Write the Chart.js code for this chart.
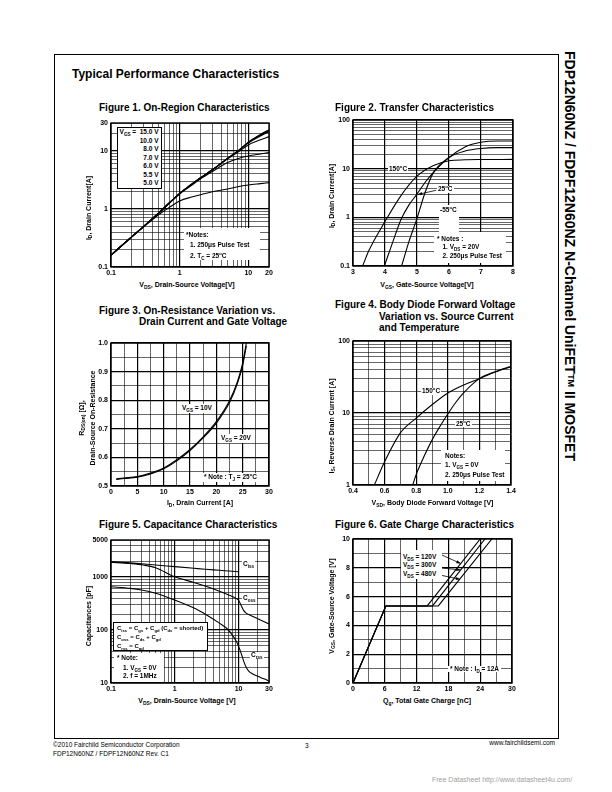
<!DOCTYPE html>
<html>
<head>
<meta charset="utf-8">
<script src="https://cdn.jsdelivr.net/npm/chart.js@4"></script>
<style>
body{margin:0;background:#fff;font-family:"Liberation Sans",Arial,sans-serif;color:#000}
#page{position:relative;width:612px;height:792px;overflow:hidden;background:#fff}
#frame{position:absolute;left:54px;top:54px;width:503px;height:683px;border:1px solid #000}
canvas{position:absolute;z-index:1}
.t{position:absolute;white-space:nowrap;line-height:1;font-weight:bold;z-index:2}
.t sub{font-size:70%;vertical-align:-1.5px;line-height:0}
.t sup{font-size:65%;vertical-align:3px;line-height:0}
.h{font-size:12px}
.f{font-size:10px}
.a{font-size:7px}
.s{font-size:6.5px}
.xt{transform:translateX(-50%)}
.yt{transform:translate(-50%,-50%) rotate(-90deg);text-align:center;line-height:10.5px}
.w{background:#fff}
.n{font-weight:normal;font-size:6.5px}
</style>
</head>
<body>
<div id="page">
<div id="frame"></div>

<div class="t h" style="left:72px;top:68px">Typical Performance Characteristics</div>
<div class="t" style="left:570px;top:256px;font-size:14px;transform:translate(-50%,-50%) rotate(90deg)">FDP12N60NZ / FDPF12N60NZ N-Channel UniFET<sup>TM</sup> II MOSFET</div>

<!-- figure titles -->
<div class="t f" style="left:99px;top:103px">Figure 1. On-Region Characteristics</div>
<div class="t f" style="left:335px;top:103px">Figure 2. Transfer Characteristics</div>
<div class="t f" style="left:99px;top:305.5px">Figure 3. On-Resistance Variation vs.</div>
<div class="t f" style="left:139px;top:316.5px">Drain Current and Gate Voltage</div>
<div class="t f" style="left:335px;top:300px">Figure 4. Body Diode Forward Voltage</div>
<div class="t f" style="left:379px;top:311.5px">Variation vs. Source Current</div>
<div class="t f" style="left:379px;top:322.5px">and Temperature</div>
<div class="t f" style="left:99px;top:520px">Figure 5. Capacitance Characteristics</div>
<div class="t f" style="left:335px;top:520px">Figure 6. Gate Charge Characteristics</div>

<!-- axis titles -->
<div class="t a xt" style="left:187px;top:281px">V<sub>DS</sub>, Drain-Source Voltage[V]</div>
<div class="t a yt" style="left:89px;top:208px">I<sub>D</sub>, Drain Current[A]</div>
<div class="t a xt" style="left:427px;top:280.5px">V<sub>GS</sub>, Gate-Source Voltage[V]</div>
<div class="t a yt" style="left:332px;top:196px">I<sub>D</sub>, Drain Current[A]</div>
<div class="t a xt" style="left:200px;top:498.5px">I<sub>D</sub>, Drain Current [A]</div>
<div class="t a yt" style="left:87px;top:418px">R<sub>DS(on)</sub> [Ω],<br>Drain-Source On-Resistance</div>
<div class="t a xt" style="left:432.5px;top:498.5px">V<sub>SD</sub>, Body Diode Forward Voltage [V]</div>
<div class="t a yt" style="left:332px;top:426px">I<sub>S</sub>, Reverse Drain Current [A]</div>
<div class="t a xt" style="left:187px;top:697px">V<sub>DS</sub>, Drain-Source Voltage [V]</div>
<div class="t a yt" style="left:89px;top:616px">Capacitances [pF]</div>
<div class="t a xt" style="left:427px;top:697px">Q<sub>g</sub>, Total Gate Charge [nC]</div>
<div class="t a yt" style="left:332px;top:606px">V<sub>GS</sub>, Gate-Source Voltage [V]</div>

<!-- figure 1 notes -->
<div class="t s" style="left:116.5px;top:126.5px;width:41px;height:60px;border:1px solid #000;background:#fff;text-align:right;padding:0.5px 2.5px 0 0;line-height:8.5px">V<sub>GS</sub> = &nbsp;15.0 V<br>10.0 V<br>8.0 V<br>7.0 V<br>6.0 V<br>5.5 V<br>5.0 V</div>
<div class="t w" style="left:184px;top:228px;width:76px;height:32px"></div>
<div class="t s" style="left:186px;top:232px">*Notes:</div>
<div class="t s" style="left:190px;top:242px">1. 250<span>μ</span>s Pulse Test</div>
<div class="t s" style="left:190px;top:252.5px">2. T<sub>C</sub> = 25<sup>o</sup>C</div>

<!-- figure 2 notes -->
<div class="t s w" style="left:388px;top:165.5px;padding:0 1px">150<sup>o</sup>C</div>
<div class="t s w" style="left:437px;top:186px;padding:0 1px">25<sup>o</sup>C</div>
<div class="t s w" style="left:439px;top:205px;padding:2px 2px 20px 1px">-55<sup>o</sup>C</div>
<div class="t w" style="left:434px;top:232px;width:72px;height:31px"></div>
<div class="t s" style="left:437px;top:235.5px">* Notes :</div>
<div class="t s" style="left:442.5px;top:244px">1. V<sub>DS</sub> = 20V</div>
<div class="t s" style="left:442.5px;top:253px">2. 250<span>μ</span>s Pulse Test</div>

<!-- figure 3 notes -->
<div class="t s w" style="left:181px;top:404px;padding:1px">V<sub>GS</sub> = 10V</div>
<div class="t s w" style="left:220px;top:434px;padding:1px">V<sub>GS</sub> = 20V</div>
<div class="t s w" style="left:202px;top:473px;padding:1px 2px">* Note : T<sub>J</sub> = 25<sup>o</sup>C</div>

<!-- figure 4 notes -->
<div class="t s w" style="left:421px;top:388px;padding:0 1px">150<sup>o</sup>C</div>
<div class="t s w" style="left:455px;top:420.5px;padding:0 1px">25<sup>o</sup>C</div>
<div class="t w" style="left:441px;top:450px;width:64px;height:31px"></div>
<div class="t s" style="left:445px;top:453px">Notes:</div>
<div class="t s" style="left:445px;top:462px">1. V<sub>GS</sub> = 0V</div>
<div class="t s" style="left:445px;top:472px">2. 250<span>μ</span>s Pulse Test</div>

<!-- figure 5 notes -->
<div class="t s w" style="left:242px;top:560.5px;padding:0 1px">C<sub>iss</sub></div>
<div class="t s w" style="left:242px;top:595px;padding:0 1px">C<sub>oss</sub></div>
<div class="t s w" style="left:250px;top:651.5px;padding:0 1px">C<sub>rss</sub></div>
<div class="t" style="left:113px;top:622px;width:90px;height:26px;border:1px solid #000;background:#fff;padding:1px 0 0 3px;font-size:6px;line-height:9px">C<sub>iss</sub> = C<sub>gs</sub> + C<sub>gd</sub> (C<sub>ds</sub> = shorted)<br>C<sub>oss</sub> = C<sub>ds</sub> + C<sub>gd</sub><br>C<sub>rss</sub> = C<sub>gd</sub></div>
<div class="t w" style="left:114px;top:653px;width:50px;height:29px"></div>
<div class="t s" style="left:117px;top:655px">* Note:</div>
<div class="t s" style="left:123px;top:664.5px">1. V<sub>GS</sub> = 0V</div>
<div class="t s" style="left:123px;top:673px">2. f = 1MHz</div>

<!-- figure 6 notes -->
<div class="t w" style="left:401px;top:550px;width:41px;height:29px"></div>
<div class="t s" style="left:403px;top:553.5px">V<sub>DS</sub> = 120V</div>
<div class="t s" style="left:403px;top:562px">V<sub>DS</sub> = 300V</div>
<div class="t s" style="left:403px;top:570.5px">V<sub>DS</sub> = 480V</div>
<div class="t s w" style="left:448px;top:665.5px;padding:0 2px">* Note : I<sub>D</sub> = 12A</div>

<!-- footer -->
<div class="t n" style="left:53px;top:741.5px">©2010 Fairchild Semiconductor Corporation</div>
<div class="t n" style="left:53px;top:750.5px">FDP12N60NZ / FDPF12N60NZ Rev. C1</div>
<div class="t n" style="left:305px;top:742.5px">3</div>
<div class="t n" style="right:57px;top:740px">www.fairchildsemi.com</div>
<div class="t n" style="left:432px;top:775.5px;font-size:7px;color:#a0a0a0">Free Datasheet http://www.datasheet4u.com/</div>
</div>

<script>
// Figure 1 : On-Region Characteristics (VDS [V] -> ID [A], one series per VGS)
const f1Vds   = [0.1, 0.2, 0.3, 0.5, 0.7, 1, 1.5, 2, 3, 5, 7, 10, 15, 20];
const f1Vgs15 = [0.16, 0.33, 0.5, 0.86, 1.25, 1.85, 2.65, 3.4, 4.7, 7.4, 9.8, 14.0, 19.0, 23.0];
const f1Vgs10 = [0.16, 0.33, 0.5, 0.86, 1.25, 1.85, 2.65, 3.4, 4.7, 7.4, 9.8, 13.9, 18.7, 22.5];
const f1Vgs8  = [0.16, 0.33, 0.5, 0.86, 1.25, 1.85, 2.65, 3.4, 4.7, 7.4, 9.8, 13.8, 18.4, 22.0];
const f1Vgs7  = [0.16, 0.33, 0.5, 0.86, 1.25, 1.85, 2.65, 3.4, 4.7, 7.4, 9.7, 13.6, 18.0, 21.4];
const f1Vgs6  = [0.16, 0.33, 0.5, 0.86, 1.25, 1.85, 2.65, 3.4, 4.7, 7.3, 9.4, 12.6, 15.4, 17.5];
const f1Vgs55 = [0.16, 0.33, 0.5, 0.85, 1.23, 1.8, 2.55, 3.25, 4.4, 6.3, 7.3, 8.1, 8.8, 9.3];
const f1Vgs5  = [0.16, 0.33, 0.49, 0.8, 1.05, 1.37, 1.6, 1.75, 1.97, 2.2, 2.4, 2.57, 2.72, 2.83];
const f1XLabels = [0.1, 1, 10, 20];
const f1YLabels = [0.1, 1, 10, 30];

// Figure 2 : Transfer Characteristics (VGS [V] -> ID [A])
const f2Vgs150 = [3.3, 3.5, 4.0, 4.5, 5.0, 5.5, 6.0, 6.5, 7.0, 8.0];
const f2Id150  = [0.1, 0.21, 0.82, 2.8, 7.0, 11.5, 14.5, 15.2, 15.4, 15.5];
const f2Vgs25  = [3.98, 4.25, 4.5, 4.75, 5.0, 5.25, 5.5, 6.0, 6.5, 7.0, 7.5, 8.0];
const f2Id25   = [0.1, 0.32, 0.9, 1.8, 3.0, 5.2, 8.2, 17, 23, 26, 27, 27];
const f2VgsM55 = [4.52, 4.75, 5.0, 5.25, 5.5, 6.0, 6.5, 7.0, 7.5, 8.0];
const f2IdM55  = [0.1, 0.32, 0.95, 3.2, 8.0, 17, 28, 35, 37, 37];
const f2XLabels = [3, 4, 5, 6, 7, 8];
const f2YLabels = [0.1, 1, 10, 100];

// Figure 3 : On-Resistance vs Drain Current (ID [A] -> RDS(on) [ohm])
const f3Id    = [1, 2.5, 5, 7.5, 10, 12.5, 15, 17.5, 20, 22.5, 24, 25, 25.7];
const f3Vgs10 = [0.525, 0.528, 0.533, 0.545, 0.563, 0.592, 0.628, 0.672, 0.725, 0.798, 0.865, 0.93, 1.0];
const f3Vgs20 = [0.523, 0.526, 0.531, 0.542, 0.56, 0.588, 0.624, 0.668, 0.72, 0.792, 0.858, 0.922, 0.99];
const f3XLabels = [0, 5, 10, 15, 20, 25, 30];
const f3YLabels = [0.5, 0.6, 0.7, 0.8, 0.9, 1.0];

// Figure 4 : Body Diode Forward Voltage (VSD [V] -> IS [A])
const f4Vsd150 = [0.535, 0.6, 0.7, 0.8, 0.9, 1.0, 1.1, 1.2, 1.3, 1.4];
const f4Is150  = [1, 2.1, 5.3, 8.5, 13, 19, 24.5, 30, 37, 44];
const f4Vsd25  = [0.778, 0.8, 0.85, 0.9, 0.95, 1.0, 1.05, 1.1, 1.2, 1.3, 1.4];
const f4Is25   = [1, 1.4, 2.5, 4.2, 6.5, 9.7, 14, 19, 30, 37.5, 44.5];
const f4XLabels = [0.4, 0.6, 0.8, 1.0, 1.2, 1.4];
const f4YLabels = [1, 10, 100];

// Figure 5 : Capacitance (VDS [V] -> C [pF])
const f5VdsIss = [0.1, 0.2, 0.3, 0.5, 1, 2, 3, 5, 7, 10];
const f5Ciss   = [1950, 1850, 1780, 1690, 1570, 1460, 1400, 1340, 1300, 1260];
const f5VdsOss = [0.1, 0.2, 0.32, 0.5, 1, 2, 3.16, 5, 7, 9, 10, 11, 12, 13, 15, 20, 30];
const f5Coss   = [1900, 1800, 1690, 1500, 1010, 790, 660, 540, 460, 400, 365, 290, 235, 210, 192, 163, 130];
const f5VdsRss = [0.1, 0.2, 0.3, 0.5, 1, 2, 3.16, 5, 6.5, 8, 9.3, 10.3, 11.2, 12.3, 13.4, 15, 19.2, 25, 30];
const f5Crss   = [656, 610, 570, 495, 368, 260, 192, 135, 108, 80, 60, 45, 33.7, 24, 18.9, 16, 13.7, 12, 10.9];
const f5XLabels = [0.1, 1, 10, 30];
const f5YLabels = [10, 100, 1000, 5000];

// Figure 6 : Gate Charge (Qg [nC] -> VGS [V])
const f6Qg120 = [0, 6.2, 14.0, 24.0];
const f6Qg300 = [0, 6.2, 15.0, 24.9];
const f6Qg480 = [0, 6.2, 16.1, 26.2];
const f6Vgs   = [0, 5.35, 5.35, 10];
const f6XLabels = [0, 6, 12, 18, 24, 30];
const f6YLabels = [0, 2, 4, 6, 8, 10];

// annotation arrows [x1, y1, x2, y2] in data units
const f2Arrows = [[5.6, 3.6, 5.03, 2.95]];
const f6Arrows = [[16.7, 8.9, 20.3, 8.3], [16.4, 8.0, 20.3, 7.85], [16.4, 7.5, 20.2, 7.2]];

const page = document.getElementById('page');
const tickFont = { family: 'Liberation Sans, Arial, sans-serif', size: 7, weight: 'bold' };

function near(a, b) { return Math.abs(a - b) < 1e-6; }

function linSteps(min, max, step) {
  const out = [];
  for (let v = min; v <= max + 1e-9; v += step) out.push(+v.toFixed(4));
  return out;
}

function logSteps(min, max) {
  const out = [];
  for (let e = Math.floor(Math.log10(min)); e <= Math.ceil(Math.log10(max)); e++) {
    for (let m = 1; m < 10; m++) {
      const v = +(m * Math.pow(10, e)).toPrecision(3);
      if (v >= min - 1e-9 && v <= max + 1e-9) out.push(v);
    }
  }
  if (!near(out[out.length - 1], max)) out.push(max);
  return out;
}

const isDecade = v => near(Math.log10(v), Math.round(Math.log10(v)));

function axis(type, min, max, grid, labels, fmt, isMajor, pad) {
  return {
    type, min, max,
    afterBuildTicks: s => { s.ticks = grid.map(v => ({ value: v })); },
    grid: {
      color: '#000', drawTicks: false,
      lineWidth: c => (c.tick && isMajor(c.tick.value)) ? 1.2 : 0.6
    },
    border: { display: false },
    ticks: {
      autoSkip: false, maxRotation: 0, padding: pad, color: '#000', font: tickFont,
      callback: v => labels.some(l => near(l, v)) ? fmt(v) : ''
    }
  };
}

const framePlugin = {
  id: 'frame',
  afterDatasetsDraw(chart) {
    const { ctx, chartArea: a } = chart;
    ctx.save();
    ctx.strokeStyle = '#000';
    ctx.lineWidth = 1.4;
    ctx.strokeRect(a.left, a.top, a.right - a.left, a.bottom - a.top);
    ctx.restore();
  }
};

function arrowPlugin(lines) {
  return {
    id: 'arrows',
    afterDatasetsDraw(chart) {
      const { ctx, scales: { x, y } } = chart;
      ctx.save();
      ctx.strokeStyle = '#000';
      ctx.fillStyle = '#000';
      ctx.lineWidth = 0.8;
      for (const [x1, y1, x2, y2] of lines) {
        const ax = x.getPixelForValue(x1), ay = y.getPixelForValue(y1);
        const bx = x.getPixelForValue(x2), by = y.getPixelForValue(y2);
        ctx.beginPath(); ctx.moveTo(ax, ay); ctx.lineTo(bx, by); ctx.stroke();
        const ang = Math.atan2(by - ay, bx - ax);
        ctx.beginPath();
        ctx.moveTo(bx, by);
        ctx.lineTo(bx - 4.5 * Math.cos(ang - 0.35), by - 4.5 * Math.sin(ang - 0.35));
        ctx.lineTo(bx - 4.5 * Math.cos(ang + 0.35), by - 4.5 * Math.sin(ang + 0.35));
        ctx.closePath();
        ctx.fill();
      }
      ctx.restore();
    }
  };
}

function series(xs, ys, smooth) {
  return {
    data: ys.map((y, i) => ({ x: xs[i], y })),
    borderColor: '#000', borderWidth: 1.1, pointRadius: 0, fill: false,
    cubicInterpolationMode: smooth ? 'monotone' : 'default', tension: 0
  };
}

// box = plot area [left, top, width, height] in page pixels
function plot(box, xAxis, yAxis, datasets, arrows) {
  const [left, top, w, h] = box;
  const L = 40, T = 8, R = 14, B = 14;
  const cv = document.createElement('canvas');
  cv.width = w + L + R;
  cv.height = h + T + B;
  cv.style.left = (left - L) + 'px';
  cv.style.top = (top - T) + 'px';
  page.appendChild(cv);
  xAxis.afterFit = s => { s.height = B; };
  yAxis.afterFit = s => { s.width = L; };
  return new Chart(cv, {
    type: 'line',
    data: { datasets },
    options: {
      responsive: false, animation: false, devicePixelRatio: 1,
      layout: { padding: { top: T, right: R, left: 0, bottom: 0 } },
      plugins: { legend: { display: false }, tooltip: { enabled: false } },
      scales: { x: xAxis, y: yAxis }
    },
    plugins: [framePlugin, arrowPlugin(arrows || [])]
  });
}

const str = v => String(v);
const fix1 = v => v.toFixed(1);
const all = () => true;

plot([111, 123, 158, 144],
  axis('logarithmic', 0.1, 20, logSteps(0.1, 20), f1XLabels, str, isDecade, 2),
  axis('logarithmic', 0.1, 30, logSteps(0.1, 30), f1YLabels, str, isDecade, 3),
  [series(f1Vds, f1Vgs15, true), series(f1Vds, f1Vgs10, true), series(f1Vds, f1Vgs8, true),
   series(f1Vds, f1Vgs7, true), series(f1Vds, f1Vgs6, true), series(f1Vds, f1Vgs55, true),
   series(f1Vds, f1Vgs5, true)]);

plot([353, 120, 160, 146],
  axis('linear', 3, 8, linSteps(3, 8, 1), f2XLabels, str, all, 2),
  axis('logarithmic', 0.1, 100, logSteps(0.1, 100), f2YLabels, str, isDecade, 3),
  [series(f2Vgs150, f2Id150, true), series(f2Vgs25, f2Id25, true), series(f2VgsM55, f2IdM55, true)],
  f2Arrows);

plot([111, 343, 158, 143],
  axis('linear', 0, 30, linSteps(0, 30, 2.5), f3XLabels, str, v => f3XLabels.some(l => near(l, v)), 2),
  axis('linear', 0.5, 1.0, linSteps(0.5, 1.0, 0.05), f3YLabels, fix1, v => f3YLabels.some(l => near(l, v)), 3),
  [series(f3Id, f3Vgs10, true), series(f3Id, f3Vgs20, true)]);

plot([353, 341, 158, 144],
  axis('linear', 0.4, 1.4, linSteps(0.4, 1.4, 0.1), f4XLabels, fix1, v => f4XLabels.some(l => near(l, v)), 2),
  axis('logarithmic', 1, 100, logSteps(1, 100), f4YLabels, str, isDecade, 3),
  [series(f4Vsd150, f4Is150, true), series(f4Vsd25, f4Is25, true)]);

plot([111, 540, 158, 143],
  axis('logarithmic', 0.1, 30, logSteps(0.1, 30), f5XLabels, str, isDecade, 2),
  axis('logarithmic', 10, 5000, logSteps(10, 5000), f5YLabels, str, isDecade, 3),
  [series(f5VdsIss, f5Ciss, true), series(f5VdsOss, f5Coss, true), series(f5VdsRss, f5Crss, true)]);

plot([353, 539, 159, 144],
  axis('linear', 0, 30, linSteps(0, 30, 3), f6XLabels, str, v => f6XLabels.some(l => near(l, v)), 2),
  axis('linear', 0, 10, linSteps(0, 10, 1), f6YLabels, str, v => f6YLabels.some(l => near(l, v)), 3),
  [series(f6Qg120, f6Vgs, false), series(f6Qg300, f6Vgs, false), series(f6Qg480, f6Vgs, false)],
  f6Arrows);
</script>
</body>
</html>
